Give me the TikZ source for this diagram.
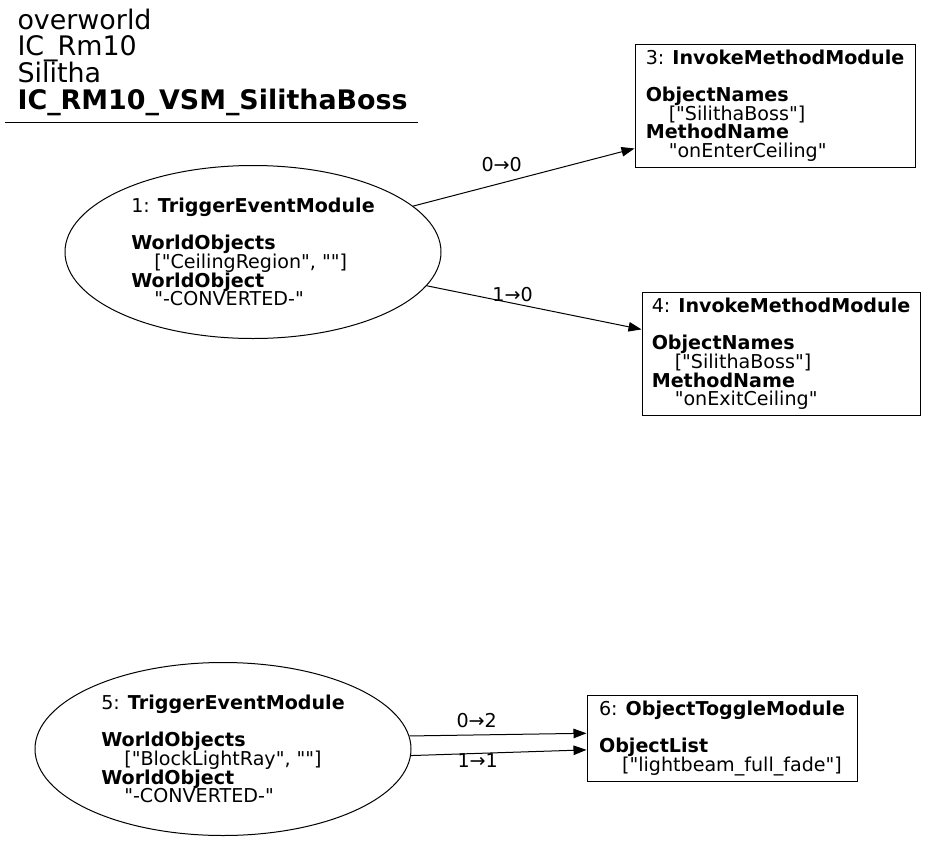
\documentclass[tikz,border=0pt]{standalone}
\usepackage{fontspec}
\setmainfont{DejaVu Sans}[Ligatures=TeXOff]
\usetikzlibrary{arrows.meta,shapes.geometric}
\tikzset{
  titletext/.style={anchor=base west, inner sep=0pt, font=\fontsize{26.9}{26.67}\selectfont},
  modellipse/.style={draw, ellipse, align=left, inner sep=0pt, minimum width=376pt, minimum height=173pt, font=\fontsize{19.1}{18.67}\selectfont},
  modbox/.style={draw, rectangle, align=left, inner sep=0pt, font=\fontsize{19.1}{18.67}\selectfont},
  portlink/.style={-{Triangle[length=13pt,width=9.5pt]}, line width=1pt},
  portlabel/.style={inner sep=1pt, font=\fontsize{19.1}{18.67}\selectfont}
}
\newcommand{\valindent}{\hspace*{23pt}}

\begin{document}
\begin{tikzpicture}[x=1pt, y=-1pt, line width=1pt]
\useasboundingbox (0,0) rectangle (927,841);
% sequence title
\node[titletext] (t1) at (17,29) {overworld};
\node[titletext] (t2) at (17,55.7) {IC\_Rm10};
\node[titletext] (t3) at (17,82.3) {Silitha};
\node[titletext] (t4) at (17,109) {\textbf{IC\_RM10\_VSM\_SilithaBoss}};
\draw (5,122.5) -- (418,122.5);
% modules
\node[modellipse] (n1) at (253,252) {1: \textbf{TriggerEventModule}\\[18.67pt]\textbf{WorldObjects}\\\valindent["CeilingRegion", ""]\\\textbf{WorldObject}\\\valindent"-CONVERTED-"};
\node[modbox, minimum width=280pt, minimum height=123pt] (n3) at (775,105.5) {3: \textbf{InvokeMethodModule}\\[18.67pt]\textbf{ObjectNames}\\\valindent["SilithaBoss"]\\\textbf{MethodName}\\\valindent"onEnterCeiling"};
\node[modbox, minimum width=278pt, minimum height=123pt] (n4) at (781,354) {4: \textbf{InvokeMethodModule}\\[18.67pt]\textbf{ObjectNames}\\\valindent["SilithaBoss"]\\\textbf{MethodName}\\\valindent"onExitCeiling"};
\node[modellipse] (n5) at (223,749) {5: \textbf{TriggerEventModule}\\[18.67pt]\textbf{WorldObjects}\\\valindent["BlockLightRay", ""]\\\textbf{WorldObject}\\\valindent"-CONVERTED-"};
\node[modbox, minimum width=270pt, minimum height=86pt] (n6) at (722,738) {6: \textbf{ObjectToggleModule}\\[18.67pt]\textbf{ObjectList}\\\valindent["lightbeam\_full\_fade"]};
% links
\draw[portlink] (n1.16) -- node[portlabel, pos=0.4, above=10pt] {0→0} (n3.197);
\draw[portlink] (n1.-11) -- node[portlabel, pos=0.4, above=0pt] {1→0} (n4.170);
\draw[portlink] (n5.4) -- node[portlabel, pos=0.38, above=6pt] {0→2} (n6.178);
\draw[portlink] (n5.-2) -- node[portlabel, pos=0.38, below=-1pt] {1→1} (n6.185);
\end{tikzpicture}
\end{document}
